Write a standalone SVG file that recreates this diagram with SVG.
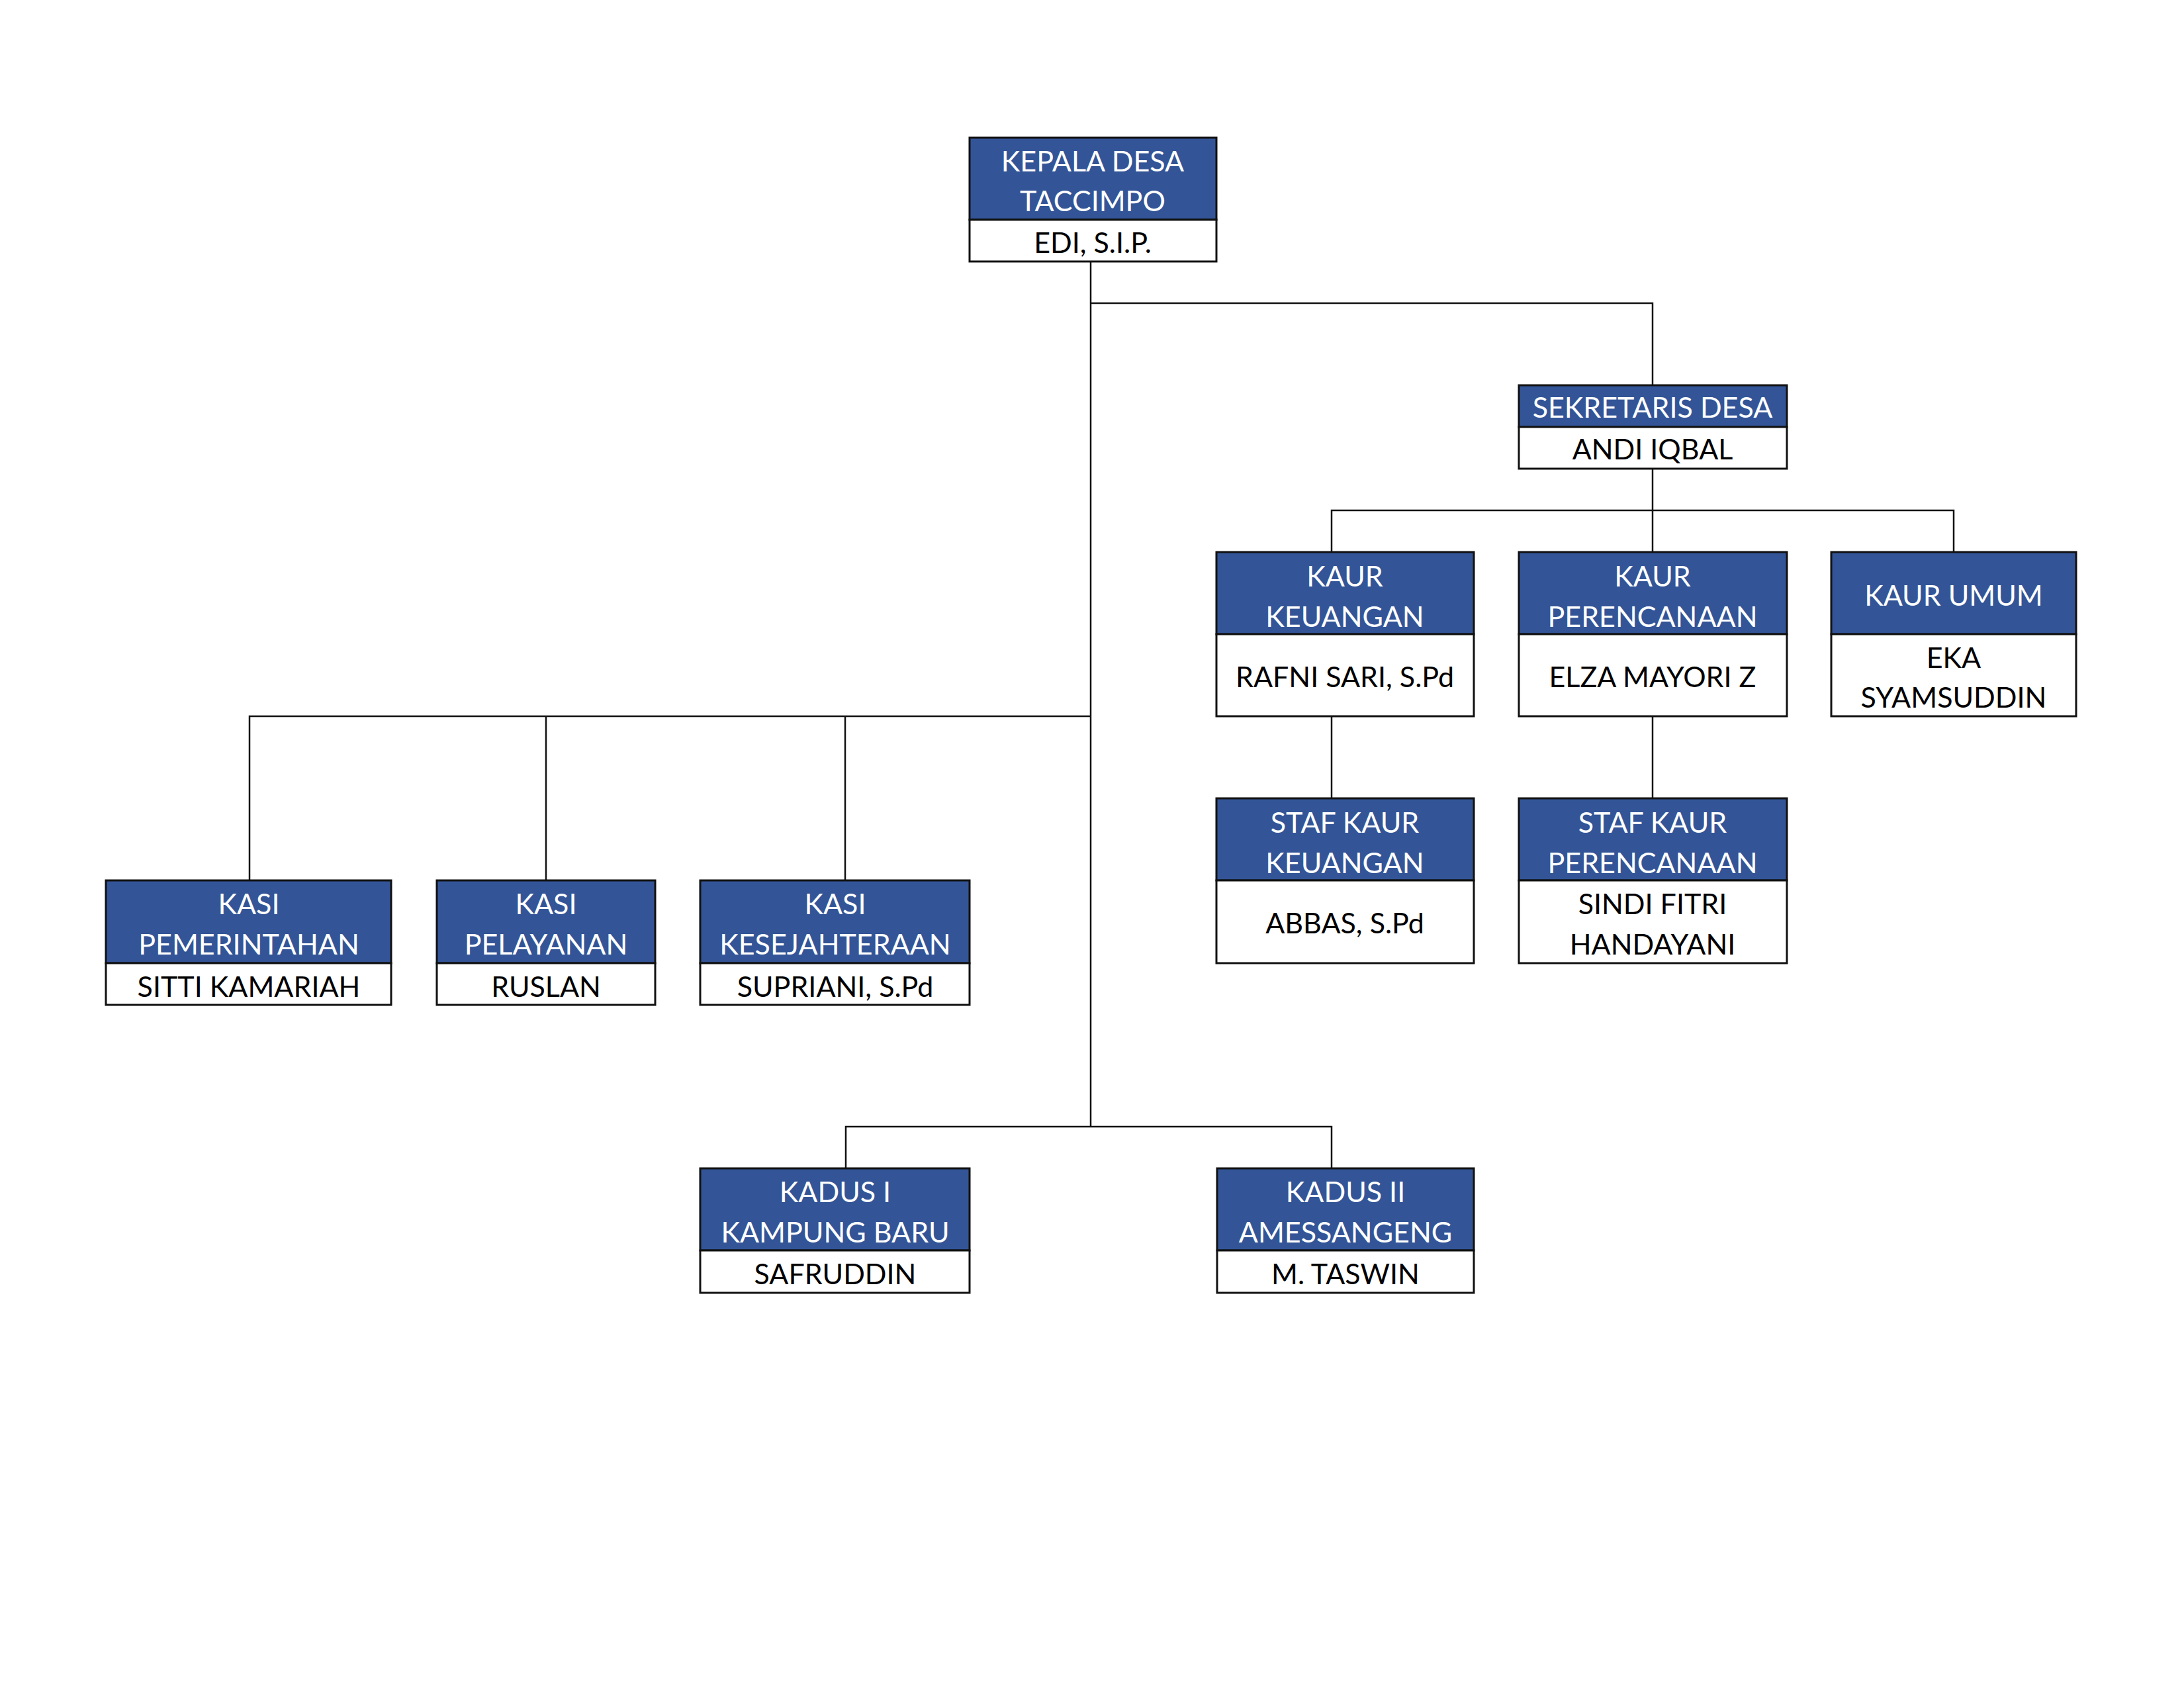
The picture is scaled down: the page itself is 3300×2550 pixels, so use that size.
<svg xmlns="http://www.w3.org/2000/svg" width="3300" height="2550" viewBox="0 0 3300 2550">
<style>
.h{fill:#335597;stroke:#111;stroke-width:3}
.w{fill:#fff;stroke:#111;stroke-width:3}
.t{font-family:Lato,"Open Sans","Liberation Sans",sans-serif;font-size:43px;text-anchor:middle}
.tw{fill:#fff}
.tb{fill:#000}
.c{fill:none;stroke:#111;stroke-width:2.5}
</style>
<rect width="3300" height="2550" fill="#fff"/>
<g id="connectors">
<path class="c" d="M1648 395V1702"/>
<path class="c" d="M1648 458H2497V582"/>
<path class="c" d="M2497 708V834"/>
<path class="c" d="M2012 834V771H2952V834"/>
<path class="c" d="M2012 1082V1206"/>
<path class="c" d="M2497 1082V1206"/>
<path class="c" d="M377 1330V1082H1648"/>
<path class="c" d="M825 1082V1330"/>
<path class="c" d="M1277 1082V1330"/>
<path class="c" d="M1278 1765V1702H2012V1765"/>
</g>
<g id="kepala">
<rect class="h" x="1465" y="208" width="373" height="124"/>
<rect class="w" x="1465" y="332" width="373" height="63"/>
<text class="t tw" x="1651" y="259">KEPALA DESA</text>
<text class="t tw" x="1651" y="319">TACCIMPO</text>
<text class="t tb" x="1651" y="382">EDI, S.I.P.</text>
</g>
<g id="sekretaris">
<rect class="h" x="2295" y="582" width="405" height="63"/>
<rect class="w" x="2295" y="645" width="405" height="63"/>
<text class="t tw" x="2497" y="631">SEKRETARIS DESA</text>
<text class="t tb" x="2497" y="694">ANDI IQBAL</text>
</g>
<g id="kaur-keuangan">
<rect class="h" x="1838" y="834" width="389" height="124"/>
<rect class="w" x="1838" y="958" width="389" height="124"/>
<text class="t tw" x="2032" y="886">KAUR</text>
<text class="t tw" x="2032" y="947">KEUANGAN</text>
<text class="t tb" x="2032" y="1038">RAFNI SARI, S.Pd</text>
</g>
<g id="kaur-perencanaan">
<rect class="h" x="2295" y="834" width="405" height="124"/>
<rect class="w" x="2295" y="958" width="405" height="124"/>
<text class="t tw" x="2497" y="886">KAUR</text>
<text class="t tw" x="2497" y="947">PERENCANAAN</text>
<text class="t tb" x="2497" y="1038">ELZA MAYORI Z</text>
</g>
<g id="kaur-umum">
<rect class="h" x="2767" y="834" width="370" height="124"/>
<rect class="w" x="2767" y="958" width="370" height="124"/>
<text class="t tw" x="2952" y="915">KAUR UMUM</text>
<text class="t tb" x="2952" y="1009">EKA</text>
<text class="t tb" x="2952" y="1069">SYAMSUDDIN</text>
</g>
<g id="staf-keuangan">
<rect class="h" x="1838" y="1206" width="389" height="124"/>
<rect class="w" x="1838" y="1330" width="389" height="125"/>
<text class="t tw" x="2032" y="1258">STAF KAUR</text>
<text class="t tw" x="2032" y="1319">KEUANGAN</text>
<text class="t tb" x="2032" y="1410">ABBAS, S.Pd</text>
</g>
<g id="staf-perencanaan">
<rect class="h" x="2295" y="1206" width="405" height="124"/>
<rect class="w" x="2295" y="1330" width="405" height="125"/>
<text class="t tw" x="2497" y="1258">STAF KAUR</text>
<text class="t tw" x="2497" y="1319">PERENCANAAN</text>
<text class="t tb" x="2497" y="1381">SINDI FITRI</text>
<text class="t tb" x="2497" y="1442">HANDAYANI</text>
</g>
<g id="kasi-pemerintahan">
<rect class="h" x="160" y="1330" width="431" height="125"/>
<rect class="w" x="160" y="1455" width="431" height="63"/>
<text class="t tw" x="376" y="1381">KASI</text>
<text class="t tw" x="376" y="1442">PEMERINTAHAN</text>
<text class="t tb" x="376" y="1506">SITTI KAMARIAH</text>
</g>
<g id="kasi-pelayanan">
<rect class="h" x="660" y="1330" width="330" height="125"/>
<rect class="w" x="660" y="1455" width="330" height="63"/>
<text class="t tw" x="825" y="1381">KASI</text>
<text class="t tw" x="825" y="1442">PELAYANAN</text>
<text class="t tb" x="825" y="1506">RUSLAN</text>
</g>
<g id="kasi-kesejahteraan">
<rect class="h" x="1058" y="1330" width="407" height="125"/>
<rect class="w" x="1058" y="1455" width="407" height="63"/>
<text class="t tw" x="1262" y="1381">KASI</text>
<text class="t tw" x="1262" y="1442">KESEJAHTERAAN</text>
<text class="t tb" x="1262" y="1506">SUPRIANI, S.Pd</text>
</g>
<g id="kadus-1">
<rect class="h" x="1058" y="1765" width="407" height="124"/>
<rect class="w" x="1058" y="1889" width="407" height="64"/>
<text class="t tw" x="1262" y="1816">KADUS I</text>
<text class="t tw" x="1262" y="1877">KAMPUNG BARU</text>
<text class="t tb" x="1262" y="1940">SAFRUDDIN</text>
</g>
<g id="kadus-2">
<rect class="h" x="1839" y="1765" width="388" height="124"/>
<rect class="w" x="1839" y="1889" width="388" height="64"/>
<text class="t tw" x="2033" y="1816">KADUS II</text>
<text class="t tw" x="2033" y="1877">AMESSANGENG</text>
<text class="t tb" x="2033" y="1940">M. TASWIN</text>
</g>
</svg>
